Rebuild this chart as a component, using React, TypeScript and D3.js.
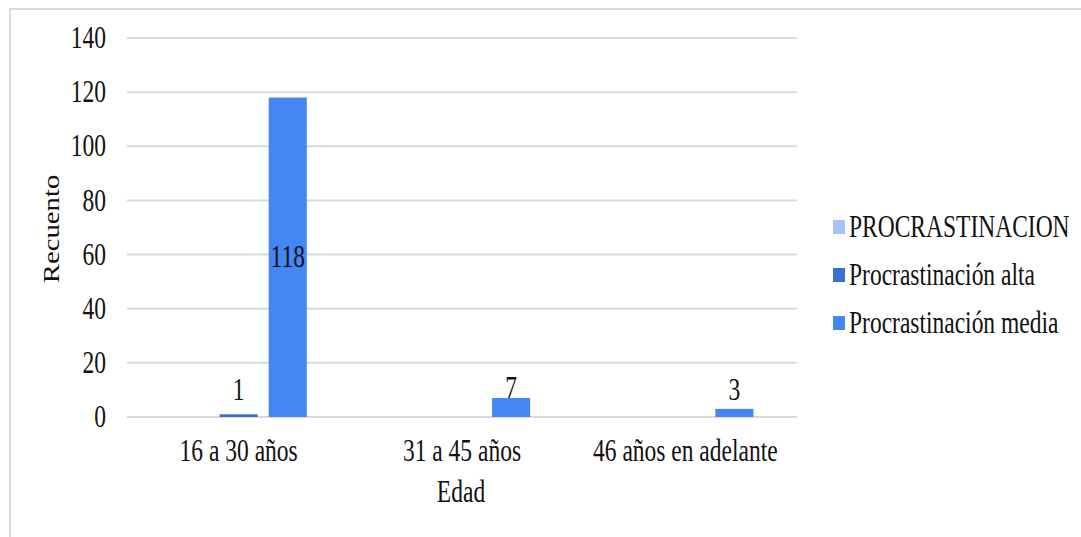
import React from "react";
import * as d3 from "d3";

const categories = ["16 a 30 años", "31 a 45 años", "46 años en adelante"];
const seriesNames = ["PROCRASTINACION", "Procrastinación alta", "Procrastinación media"];
const seriesColors = ["#a8c3f7", "#3a70d2", "#4386f4"];
const procValues: (number | null)[] = [null, null, null];
const altaValues: (number | null)[] = [1, null, null];
const mediaValues: (number | null)[] = [118, 7, 3];
const yTicks = [0, 20, 40, 60, 80, 100, 120, 140];

const W = 1081;
const H = 537;
const left = 127;
const right = 797;
const top = 38;
const bottom = 417;
const FS = 23.5;
const SY = 1.31;
const FONT = "'Liberation Serif', 'Times New Roman', serif";
const TXT = "#111";

function T({ x, y, size = FS, anchor = "middle", children, rotate = 0 }: any) {
  const tr = rotate
    ? `translate(${x},${y}) rotate(${rotate}) scale(1.25,1)`
    : `translate(${x},${y}) scale(1,${SY})`;
  return (
    <text
      transform={tr}
      textAnchor={anchor}
      dominantBaseline="central"
      fontFamily={FONT}
      fontSize={size}
      fill={TXT}
    >
      {children}
    </text>
  );
}

export default function App() {
  const x0 = d3.scaleBand<string>().domain(categories).range([left, right]).paddingInner(0.39).paddingOuter(0.195);
  const x1 = d3.scaleBand<string>().domain(seriesNames).range([0, x0.bandwidth()]).paddingInner(0.224).paddingOuter(0);
  const y = d3.scaleLinear().domain([0, 140]).range([bottom, top]);
  const allSeries = [procValues, altaValues, mediaValues];

  return (
    <svg width={W} height={H} style={{ position: "absolute", left: 0, top: 0, background: "#fff" }}>
      <rect x={0} y={0} width={W} height={H} fill="#fff" />
      <rect x={10} y={9} width={W + 20} height={H + 20} fill="none" stroke="#d9d9d9" strokeWidth={2} />
      {yTicks.map((t) => (
        <g key={t}>
          <line x1={left} x2={right} y1={y(t)} y2={y(t)} stroke="#d9d9d9" strokeWidth={2} />
          <T x={106} y={y(t)} anchor="end">{t}</T>
        </g>
      ))}
      {categories.map((c, ci) =>
        allSeries.map((vals, si) => {
          const v = vals[ci];
          if (v == null) return null;
          const bx = (x0(c) as number) + (x1(seriesNames[si]) as number);
          const bw = x1.bandwidth();
          const yTop = y(v);
          const h = y(0) - yTop;
          const inside = h > 40;
          return (
            <g key={c + si}>
              <rect x={bx} y={yTop} width={bw} height={Math.max(h, 0)} fill={seriesColors[si]} />
              <T x={bx + bw / 2} y={inside ? yTop + h / 2 : Math.min(yTop - 10, 390)}>{v}</T>
            </g>
          );
        })
      )}
      {categories.map((c) => (
        <T key={c} x={(x0(c) as number) + x0.bandwidth() / 2} y={451}>{c}</T>
      ))}
      <T x={461} y={492}>Edad</T>
      <T x={51} y={229} size={23} rotate={-90}>Recuento</T>
      {seriesNames.map((s, i) => (
        <g key={s}>
          <rect x={833} y={220 + i * 48} width={12} height={14} fill={seriesColors[i]} />
          <T x={849} y={227 + i * 48} anchor="start">{s}</T>
        </g>
      ))}
    </svg>
  );
}
